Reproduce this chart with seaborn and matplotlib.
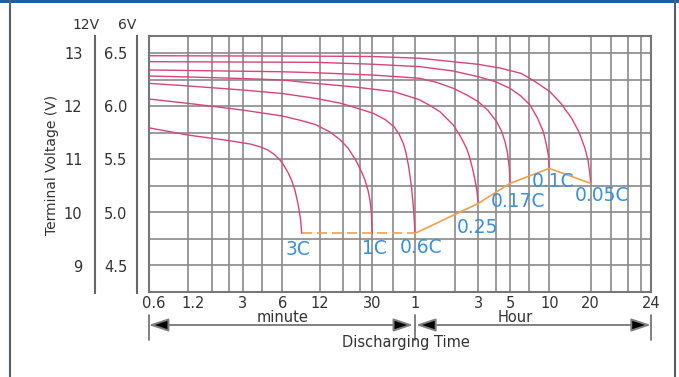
import numpy as np
import pandas as pd
import matplotlib
matplotlib.use("Agg")
import matplotlib.pyplot as plt
import seaborn as sns
from matplotlib.lines import Line2D
from matplotlib.patches import Rectangle
from matplotlib.transforms import blended_transform_factory, ScaledTranslation

# ---------------- data ----------------
rates = ["3C", "1C", "0.6C", "0.25", "0.17C", "0.1C", "0.05C"]

t_3C = [0.6, 1.2, 2.35, 3.41, 4.06, 4.67, 5.28, 5.76, 6.19, 6.66, 7.13, 7.58, 8.05, 8.39, 8.57]
v_3C = [5.795, 5.726, 5.675, 5.642, 5.616, 5.585, 5.538, 5.491, 5.438, 5.374, 5.297, 5.204,
        5.066, 4.931, 4.80]

t_1C = [0.6, 1.2, 3, 6, 8.31, 10.95, 14.3, 17.0, 19.6, 22.2, 23.5, 25.0, 26.4, 27.8, 28.8, 29.5, 30]
v_1C = [6.066, 6.025, 5.962, 5.906, 5.866, 5.827, 5.755, 5.684, 5.604, 5.5, 5.443, 5.373,
        5.302, 5.208, 5.113, 5.0, 4.80]

t_06C = [0.6, 1.2, 3, 6, 10.95, 17.0, 22.2, 30.5, 36.9, 42.7, 46.3, 49.6, 51.8, 53.9, 55.3,
         56.7, 58.7, 60]
v_06C = [6.214, 6.189, 6.151, 6.118, 6.073, 6.028, 5.986, 5.931, 5.873, 5.805, 5.736, 5.648,
         5.561, 5.443, 5.340, 5.236, 5.019, 4.80]

t_025C = [0.6, 1.2, 3, 6, 10.95, 22.2, 42.7, 60, 65.4, 77.8, 92.6, 116.6, 131, 147, 155.8,
          165, 170, 175.4, 180]
v_025C = [6.283, 6.274, 6.259, 6.245, 6.214, 6.179, 6.135, 6.073, 6.057, 6.005, 5.946, 5.821,
          5.722, 5.601, 5.505, 5.38, 5.302, 5.208, 5.082]

t_017C = [0.6, 6, 10.95, 30, 47, 65.4, 87.9, 116.6, 145.4, 180, 210.4, 242, 261.7, 277,
          288.2, 297, 300]
v_017C = [6.34, 6.323, 6.314, 6.292, 6.275, 6.261, 6.222, 6.167, 6.108, 6.041, 5.958, 5.852,
          5.764, 5.663, 5.557, 5.412, 5.271]

t_01C = [0.6, 10.95, 30, 65.4, 116.6, 180, 235.7, 300, 364, 427, 487, 540, 571, 590, 600]
v_01C = [6.418, 6.412, 6.394, 6.371, 6.33, 6.276, 6.231, 6.167, 6.094, 6.009, 5.887, 5.758,
         5.632, 5.538, 5.412]

t_005C = [0.6, 10.95, 30, 65.4, 180, 255.3, 364, 466, 607, 729.5, 873, 986, 1091, 1152, 1186, 1200]
v_005C = [6.474, 6.47, 6.467, 6.45, 6.393, 6.358, 6.308, 6.231, 6.135, 6.024, 5.884, 5.755,
          5.601, 5.475, 5.349, 5.271]

curve_t = [t_3C, t_1C, t_06C, t_025C, t_017C, t_01C, t_005C]
curve_v = [v_3C, v_1C, v_06C, v_025C, v_017C, v_01C, v_005C]

# x-axis (minutes) tick labels and grid
xtick_min = [0.6, 1.2, 3, 6, 12, 30, 60, 180, 300, 600, 1200, 1440]
xtick_lbl = ["0.6", "1.2", "3", "6", "12", "30", "1", "3", "5", "10", "20", "24"]
xgrid_min = [0.6, 1.2, 1.8, 2.4, 3, 4.2, 6, 12, 18, 24, 30, 42, 60, 120, 180,
             240, 300, 420, 600, 1200, 1260, 1320, 1380, 1440]

v6_major = [4.5, 5.0, 5.5, 6.0, 6.5]
v6_labels = ["4.5", "5.0", "5.5", "6.0", "6.5"]
v12_major = [9, 10, 11, 12, 13]
v12_labels = ["9", "10", "11", "12", "13"]

# ---------------- hand-drawn time scale of the chart ----------------
ANCH_T = np.array([0.6, 1.2, 3, 6, 12, 30, 60, 180, 300, 600, 1200, 1260, 1320, 1380, 1440])
ANCH_P = np.array([148.7, 188.3, 242.7, 282.3, 320, 372.3, 415, 478.3, 510, 549.3,
                   590.7, 611, 627.7, 640.7, 651])
LA = np.log10(ANCH_T)
S0 = (ANCH_P[1] - ANCH_P[0]) / (LA[1] - LA[0])
S1 = (ANCH_P[-1] - ANCH_P[-2]) / (LA[-1] - LA[-2])


def fwd(x):
    x = np.asarray(x, float)
    lx = np.log10(np.clip(x, 1e-9, None))
    p = np.interp(lx, LA, ANCH_P)
    p = np.where(lx < LA[0], ANCH_P[0] + (lx - LA[0]) * S0, p)
    p = np.where(lx > LA[-1], ANCH_P[-1] + (lx - LA[-1]) * S1, p)
    return p


def inv(p):
    p = np.asarray(p, float)
    lx = np.interp(p, ANCH_P, LA)
    lx = np.where(p < ANCH_P[0], LA[0] + (p - ANCH_P[0]) / S0, lx)
    lx = np.where(p > ANCH_P[-1], LA[-1] + (p - ANCH_P[-1]) / S1, lx)
    return 10 ** lx


# ---------------- styling ----------------
sns.set_theme(style="white")
plt.rcParams["font.family"] = ["DejaVu Sans"]
TXT = "#333333"
CURVE = "#d9447a"
ORANGE = "#f0a04e"
BLUE = "#3d8fd6"
GRID = "#8a8a8a"

W, H = 679, 377
fig = plt.figure(figsize=(W / 100, H / 100), dpi=100)
fig.patch.set_facecolor("white")

left, right, top, bottom = 148.7, 651, 36, 291.7
ax = fig.add_axes([left / W, (H - bottom) / H, (right - left) / W, (bottom - top) / H])
ax.set_xscale("function", functions=(fwd, inv))

df = pd.concat(
    [pd.DataFrame({"minutes": t, "volts": v, "rate": r}) for r, t, v in zip(rates, curve_t, curve_v)],
    ignore_index=True,
)
sns.lineplot(data=df, x="minutes", y="volts", hue="rate", estimator=None, legend=False,
             palette={r: CURVE for r in rates}, lw=1.0, ax=ax, zorder=3)

# end-of-discharge line
end_t = [t[-1] for t in curve_t]
end_v = [v[-1] for v in curve_v]
ax.plot(end_t[:3], end_v[:3], color=ORANGE, lw=1.2, ls=(0, (6, 3)), zorder=4)
ax.plot(end_t[2:], end_v[2:], color=ORANGE, lw=1.2, zorder=4)

# rate labels
lab_t = [8.05, 31, 66.6, 178, 344, 640, 1232]
lab_v = [4.648, 4.658, 4.667, 4.856, 5.097, 5.286, 5.16]
for r, tx, vy in zip(rates, lab_t, lab_v):
    ax.text(tx, vy, r, color=BLUE, fontsize=13.5, ha="center", va="center", zorder=5)

ax.set_xlim(0.6, 1440)
ax.set_ylim(4.25, 6.66)
ax.set_xticks(xgrid_min)
ax.set_xticklabels([xtick_lbl[xtick_min.index(m)] if m in xtick_min else "" for m in xgrid_min])
ax.set_yticks(np.arange(4.5, 6.51, 0.25))
ax.grid(True, color=GRID, lw=1.2)
ax.tick_params(axis="x", length=0, pad=3, labelsize=10.5, labelcolor=TXT)
ax.tick_params(axis="y", length=0, labelleft=False)
ax.set_xlabel("")
ax.set_ylabel("")
for s in ax.spines.values():
    s.set_visible(True)
    s.set_color("#777777")
    s.set_linewidth(1.5)

# small offsets of first two labels as in the reference
for lbl in ax.get_xticklabels()[:2]:
    lbl.set_transform(lbl.get_transform() + ScaledTranslation(5 / 100, 0, fig.dpi_scale_trans))


# ---------------- left voltage axes (6V and 12V) ----------------
def side_axis(xpix, lims, major, labels, minor, pad):
    a = fig.add_axes([xpix / W, (H - 292.5) / H, 0.0001, (292.5 - top) / H])
    a.set_facecolor("none")
    for k in ["right", "top", "bottom"]:
        a.spines[k].set_visible(False)
    a.spines["left"].set_color("#666666")
    a.spines["left"].set_linewidth(1.5)
    a.set_ylim(*lims)
    a.set_xticks([])
    a.set_yticks(major)
    a.set_yticklabels(labels)
    a.set_yticks(minor, minor=True)
    a.tick_params(axis="y", which="both", direction="out", length=5, width=1.3,
                  color="#666666", labelsize=10.5, labelcolor=TXT, pad=pad)
    return a


side_axis(137, (4.25, 6.66), v6_major, v6_labels, [4.25, 4.75, 5.25, 5.75, 6.25, 6.66], 2)
side_axis(95, (8.5, 13.32), v12_major, v12_labels, [8.5, 9.5, 10.5, 11.5, 12.5, 13.32], 4)

fig.text(86 / W, 1 - 25 / H, "12V", ha="center", va="center", fontsize=10, color=TXT)
fig.text(126.7 / W, 1 - 25 / H, "6V", ha="center", va="center", fontsize=10, color=TXT)
fig.text(51.7 / W, 1 - 165 / H, "Terminal Voltage (V)", rotation=90, ha="center",
         va="center", fontsize=10, color=TXT)

# ---------------- discharging time arrows ----------------
tr = blended_transform_factory(ax.transData, ax.transAxes)
hh = bottom - top
ya = (bottom - 325) / hh
y_bar0 = (bottom - 315) / hh
y_bar1 = (bottom - 340) / hh
for xm in [0.6, 60, 1440]:
    ax.add_line(Line2D([xm, xm], [y_bar0, y_bar1], transform=tr, color="#777777", lw=1.3,
                       clip_on=False))
aprops = dict(arrowstyle="<|-|>,head_length=1.2,head_width=0.4", fc="black", ec="#808080",
              lw=1.4, shrinkA=0, shrinkB=0, mutation_scale=10)
ax.annotate("", xy=(0.6, ya), xytext=(58.3, ya), xycoords=tr, textcoords=tr,
            arrowprops=aprops, annotation_clip=False)
ax.annotate("", xy=(61, ya), xytext=(1440, ya), xycoords=tr, textcoords=tr,
            arrowprops=aprops, annotation_clip=False)
ax.text(6, (bottom - 322.5) / hh, "minute", transform=tr, ha="center", va="baseline",
        fontsize=10.5, color=TXT, clip_on=False)
ax.text(328, (bottom - 322.5) / hh, "Hour", transform=tr, ha="center", va="baseline",
        fontsize=10.5, color=TXT, clip_on=False)
ax.text(52, (bottom - 342) / hh, "Discharging Time", transform=tr, ha="center",
        va="center", fontsize=10.5, color=TXT, clip_on=False)

# ---------------- frame of the picture ----------------
fig.add_artist(Line2D([10 / W, 10 / W], [0, 1], transform=fig.transFigure, color="#56606a", lw=1.5))
fig.add_artist(Line2D([675 / W, 675 / W], [0, 1], transform=fig.transFigure, color="#56606a", lw=1.5))
fig.add_artist(Rectangle((0, 1 - 2.5 / H), 1, 2.5 / H, transform=fig.transFigure,
                         color="#1d5fa0", lw=0))

fig.savefig("out.png", dpi=100, facecolor="white")
